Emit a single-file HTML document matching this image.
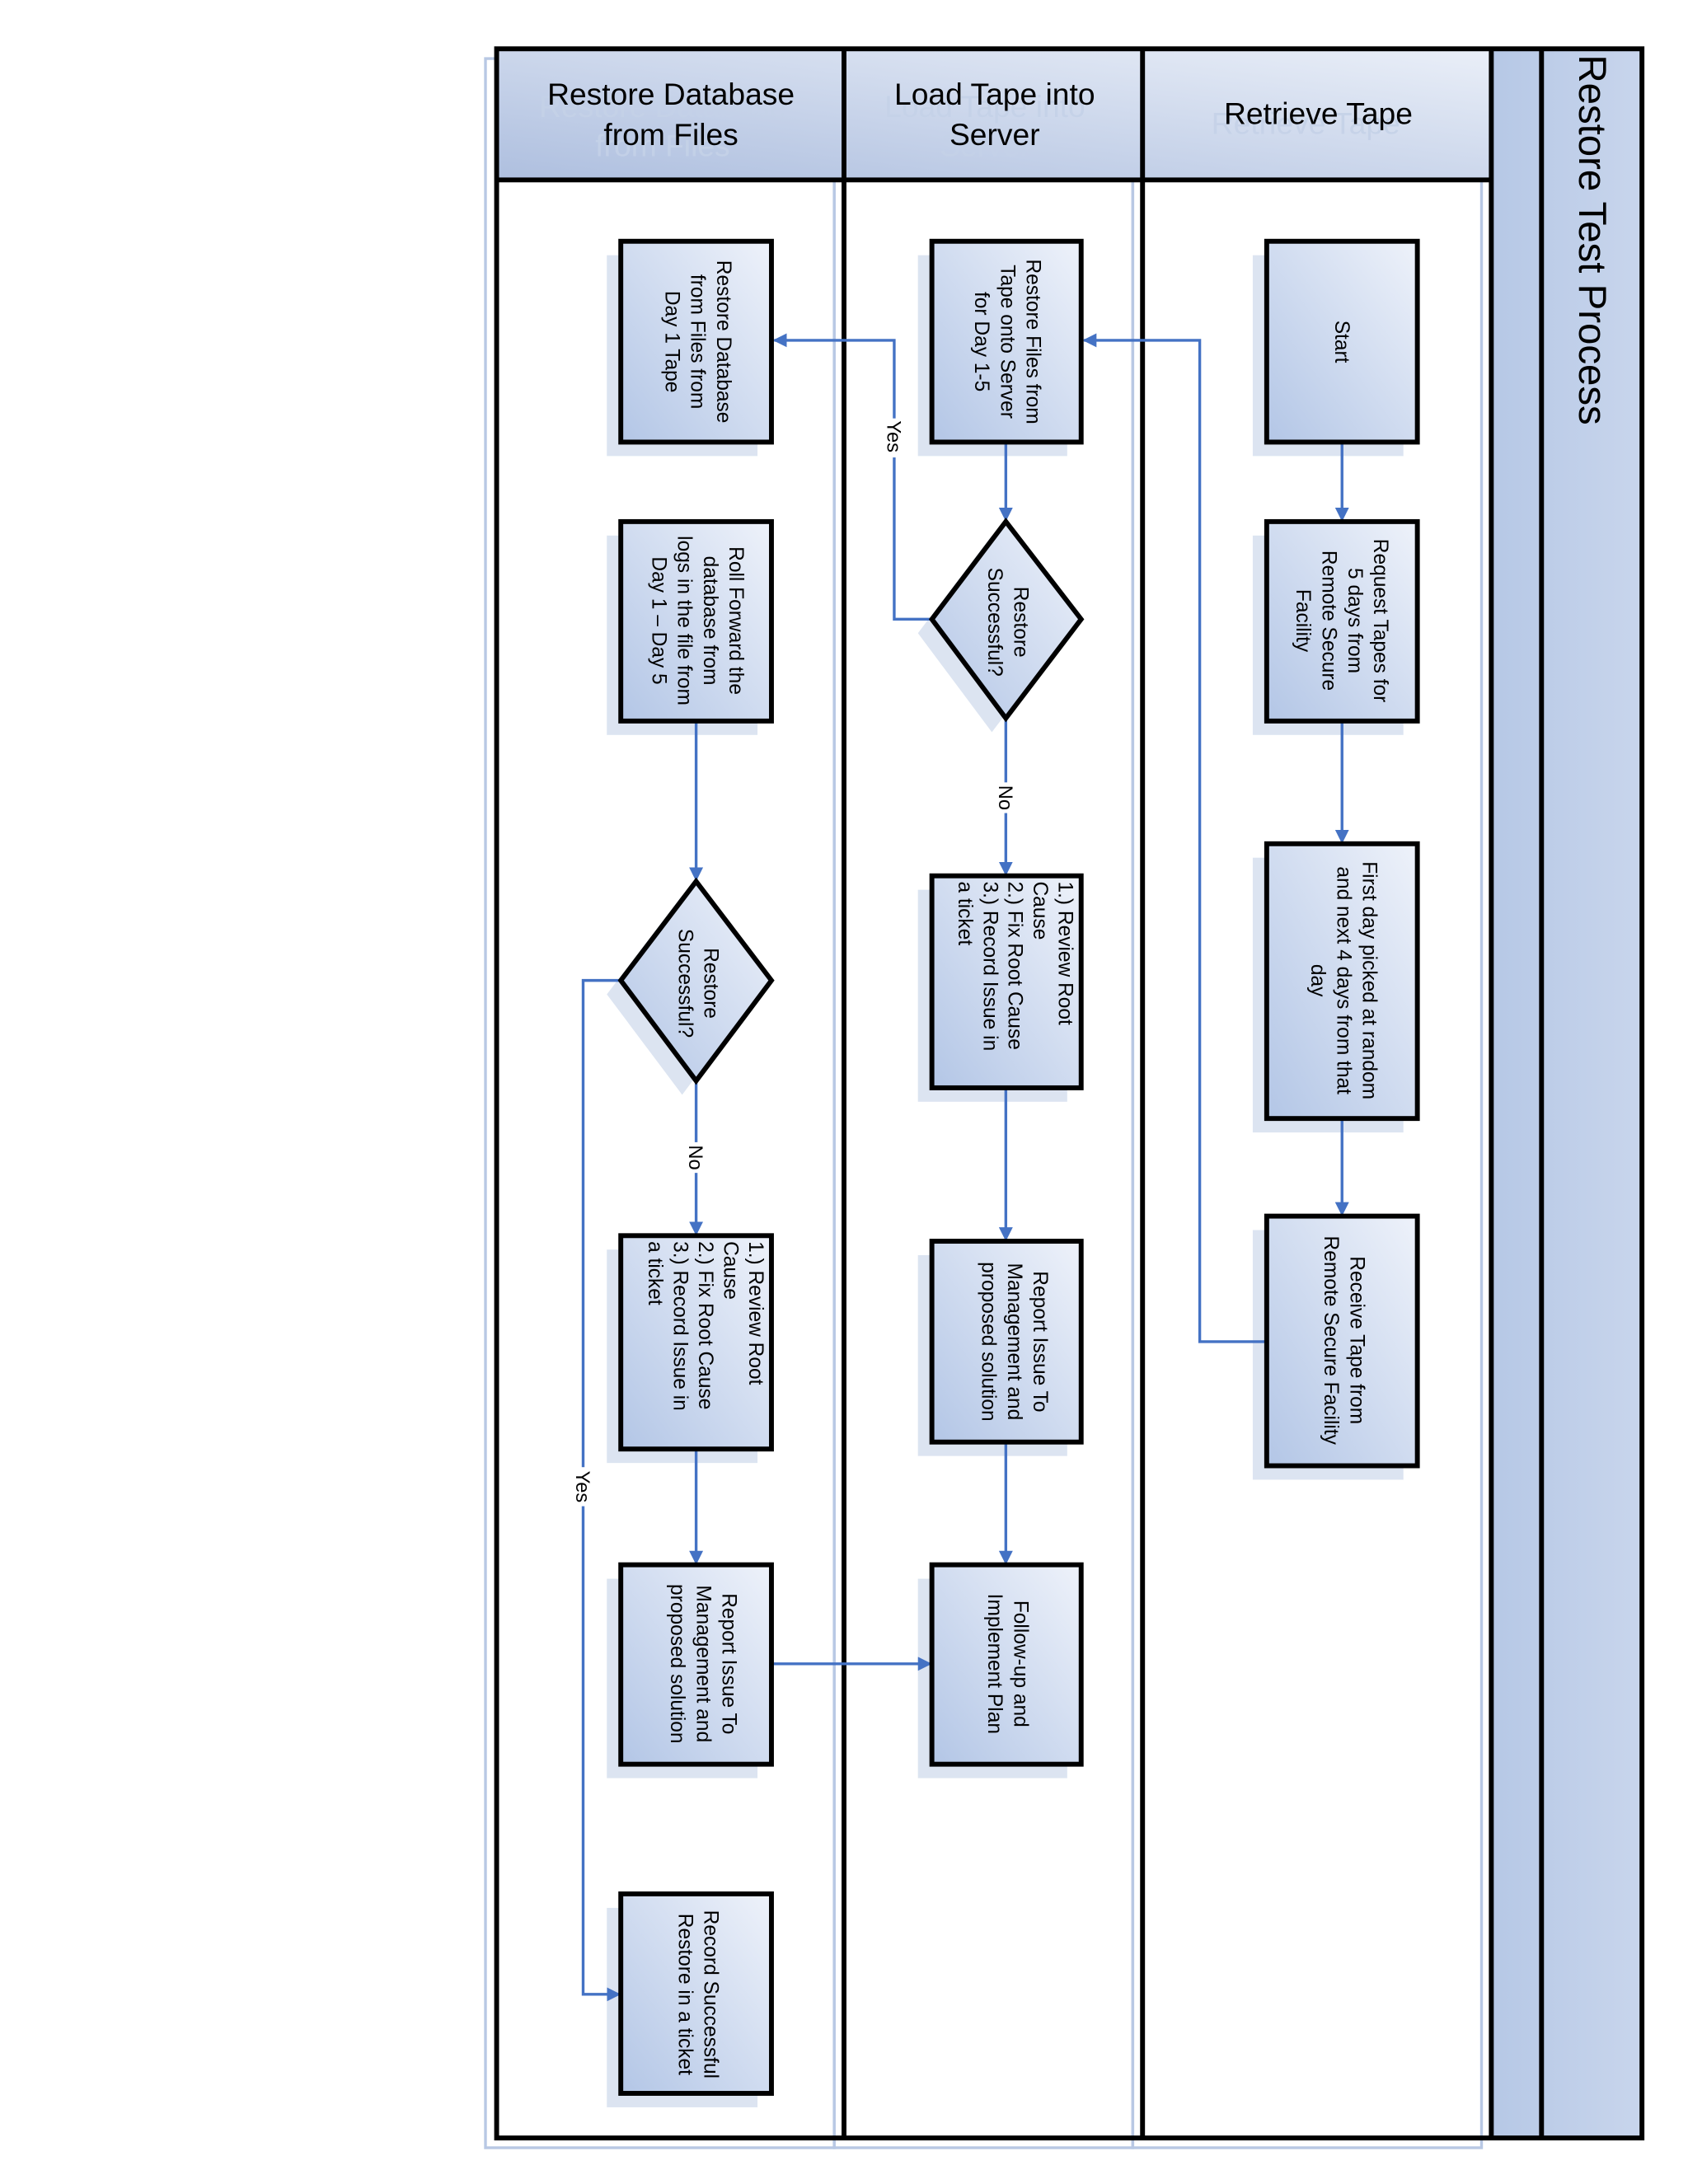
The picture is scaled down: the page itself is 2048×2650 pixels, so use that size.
<!DOCTYPE html>
<html><head><meta charset="utf-8"><style>html,body{margin:0;padding:0;background:#fff}svg{display:block}</style></head><body>
<svg xmlns="http://www.w3.org/2000/svg" width="2048" height="2650" viewBox="0 0 1210 1566" preserveAspectRatio="none" font-family="Liberation Sans, Arial, sans-serif">
<defs>
<linearGradient id="bx" x1="1" y1="0" x2="0" y2="1"><stop offset="0" stop-color="#eef2fa"/><stop offset="1" stop-color="#b3c6e6"/></linearGradient>
<linearGradient id="hd" x1="1" y1="0" x2="0" y2="1"><stop offset="0" stop-color="#eaeff8"/><stop offset="1" stop-color="#aebfdf"/></linearGradient>
<linearGradient id="tl" x1="0" y1="0" x2="1" y2="0"><stop offset="0" stop-color="#b6c8e6"/><stop offset="1" stop-color="#c8d5ec"/></linearGradient>
<marker id="ar" markerWidth="10" markerHeight="10" refX="9" refY="5" orient="auto" markerUnits="userSpaceOnUse"><path d="M0,0 L10,5 L0,10 Z" fill="#4472c4"/></marker>
</defs>
<!-- ghost lane outlines -->
<g fill="none" stroke="#b8c8e4" stroke-width="2">
<rect x="348" y="42" width="250" height="1498"/>
<rect x="598" y="42" width="214" height="1498"/>
<rect x="812" y="42" width="250" height="1498"/>
</g>
<!-- headers -->
<rect x="356" y="35" width="713" height="94" fill="url(#hd)"/>
<rect x="1069" y="35" width="108" height="1498" fill="url(#tl)"/>
<g font-size="22" fill="#c5d2e8" text-anchor="middle" opacity="0.9">
<text x="475" y="84">Restore Database</text><text x="475" y="112">from Files</text>
<text x="706" y="84">Load Tape into</text><text x="706" y="112">Server</text>
<text x="936" y="96">Retrieve Tape</text>
</g>
<g font-size="22" fill="#000" text-anchor="middle">
<text x="481" y="75">Restore Database</text><text x="481" y="104">from Files</text>
<text x="713" y="75">Load Tape into</text><text x="713" y="104">Server</text>
<text x="945" y="89">Retrieve Tape</text>
</g>
<text transform="translate(1132,172) rotate(90)" font-size="28" text-anchor="middle" fill="#000">Restore Test Process</text>
<!-- frame -->
<g stroke="#000" stroke-width="3.5" fill="none">
<rect x="356" y="35" width="821" height="1498"/>
<line x1="356" y1="129" x2="1069" y2="129"/>
<line x1="605" y1="35" x2="605" y2="1533"/>
<line x1="819" y1="35" x2="819" y2="1533"/>
<line x1="1069" y1="35" x2="1069" y2="1533"/>
<line x1="1105" y1="35" x2="1105" y2="1533"/>
</g>
<!-- shadows -->
<g fill="#d3ddee" opacity="0.8">
<rect x="898" y="183" width="108" height="144"/><rect x="898" y="384" width="108" height="143"/><rect x="898" y="615" width="108" height="197"/><rect x="898" y="882" width="108" height="179"/>
<rect x="658" y="183" width="107" height="144"/><rect x="658" y="638" width="107" height="152"/><rect x="658" y="900" width="107" height="144"/><rect x="658" y="1132" width="107" height="143"/>
<rect x="435" y="183" width="108" height="144"/><rect x="435" y="384" width="108" height="143"/><rect x="435" y="896" width="108" height="153"/><rect x="435" y="1132" width="108" height="143"/><rect x="435" y="1368" width="108" height="143"/>
<path d="M711,384 L658,454 L711,525 L765,454Z"/><path d="M489,642 L435,713 L489,785 L543,713Z"/>
</g>
<!-- connectors -->
<g stroke="#4472c4" stroke-width="2" fill="none" marker-end="url(#ar)">
<line x1="962" y1="317" x2="962" y2="373"/>
<line x1="962" y1="517" x2="962" y2="604"/>
<line x1="962" y1="802" x2="962" y2="871"/>
<polyline points="908,962 860,962 860,244 777,244"/>
<line x1="721" y1="317" x2="721" y2="373"/>
<polyline points="668,444 641,444 641,244 555,244"/>
<line x1="721" y1="515" x2="721" y2="627"/>
<line x1="721" y1="780" x2="721" y2="889"/>
<line x1="721" y1="1034" x2="721" y2="1121"/>
<line x1="499" y1="517" x2="499" y2="631"/>
<line x1="499" y1="775" x2="499" y2="885"/>
<polyline points="445,703 418,703 418,1430 444,1430"/>
<line x1="499" y1="1039" x2="499" y2="1121"/>
<line x1="553" y1="1193" x2="667" y2="1193"/>
</g>
<!-- connector labels -->
<g font-size="14" fill="#000" text-anchor="middle">
<rect x="634" y="300" width="14" height="28" fill="#fff"/><text transform="translate(636,313) rotate(90)">Yes</text>
<rect x="714" y="561" width="14" height="22" fill="#fff"/><text transform="translate(716,572) rotate(90)">No</text>
<rect x="492" y="819" width="14" height="22" fill="#fff"/><text transform="translate(494,830) rotate(90)">No</text>
<rect x="411" y="1052" width="14" height="28" fill="#fff"/><text transform="translate(413,1066) rotate(90)">Yes</text>
</g>
<!-- boxes -->
<g fill="url(#bx)" stroke="#000" stroke-width="3.5">
<rect x="908" y="173" width="108" height="144"/><rect x="908" y="374" width="108" height="143"/><rect x="908" y="605" width="108" height="197"/><rect x="908" y="872" width="108" height="179"/>
<rect x="668" y="173" width="107" height="144"/><rect x="668" y="628" width="107" height="152"/><rect x="668" y="890" width="107" height="144"/><rect x="668" y="1122" width="107" height="143"/>
<rect x="445" y="173" width="108" height="144"/><rect x="445" y="374" width="108" height="143"/><rect x="445" y="886" width="108" height="153"/><rect x="445" y="1122" width="108" height="143"/><rect x="445" y="1358" width="108" height="143"/>
<path d="M721,374 L668,444 L721,515 L775,444Z"/><path d="M499,632 L445,703 L499,775 L553,703Z"/>
</g>
<g font-size="14.5" fill="#000" text-anchor="middle">
<text transform="translate(957,245) rotate(90)"><tspan x="0" dy="0">Start</tspan></text>
<text transform="translate(985,445) rotate(90)"><tspan x="0">Request Tapes for</tspan><tspan x="0" dy="18.5">5 days from</tspan><tspan x="0" dy="18.5">Remote Secure</tspan><tspan x="0" dy="18.5">Facility</tspan></text>
<text transform="translate(977,703) rotate(90)"><tspan x="0">First day picked at random</tspan><tspan x="0" dy="18.5">and next 4 days from that</tspan><tspan x="0" dy="18.5">day</tspan></text>
<text transform="translate(968,961) rotate(90)"><tspan x="0">Receive Tape from</tspan><tspan x="0" dy="18.5">Remote Secure Facility</tspan></text>
<text transform="translate(736,245) rotate(90)"><tspan x="0">Restore Files from</tspan><tspan x="0" dy="18.5">Tape onto Server</tspan><tspan x="0" dy="18.5">for Day 1-5</tspan></text>
<text transform="translate(727,446) rotate(90)"><tspan x="0">Restore</tspan><tspan x="0" dy="18.5">Successful?</tspan></text>
<text transform="translate(741,962) rotate(90)"><tspan x="0">Report Issue To</tspan><tspan x="0" dy="18.5">Management and</tspan><tspan x="0" dy="18.5">proposed solution</tspan></text>
<text transform="translate(727,1193) rotate(90)"><tspan x="0">Follow-up and</tspan><tspan x="0" dy="18.5">Implement Plan</tspan></text>
<text transform="translate(514,245) rotate(90)"><tspan x="0">Restore Database</tspan><tspan x="0" dy="18.5">from Files from</tspan><tspan x="0" dy="18.5">Day 1 Tape</tspan></text>
<text transform="translate(523,445) rotate(90)"><tspan x="0">Roll Forward the</tspan><tspan x="0" dy="18.5">database from</tspan><tspan x="0" dy="18.5">logs in the file from</tspan><tspan x="0" dy="18.5">Day 1 – Day 5</tspan></text>
<text transform="translate(505,705) rotate(90)"><tspan x="0">Restore</tspan><tspan x="0" dy="18.5">Successful?</tspan></text>
<text transform="translate(518,1193) rotate(90)"><tspan x="0">Report Issue To</tspan><tspan x="0" dy="18.5">Management and</tspan><tspan x="0" dy="18.5">proposed solution</tspan></text>
<text transform="translate(505,1430) rotate(90)"><tspan x="0">Record Successful</tspan><tspan x="0" dy="18.5">Restore in a ticket</tspan></text>
</g>
<g font-size="14.5" fill="#000" text-anchor="start">
<text transform="translate(759,632) rotate(90)"><tspan x="0">1.) Review Root</tspan><tspan x="0" dy="18">Cause</tspan><tspan x="0" dy="18">2.) Fix Root Cause</tspan><tspan x="0" dy="18">3.) Record Issue in</tspan><tspan x="0" dy="18">a ticket</tspan></text>
<text transform="translate(537,890) rotate(90)"><tspan x="0">1.) Review Root</tspan><tspan x="0" dy="18">Cause</tspan><tspan x="0" dy="18">2.) Fix Root Cause</tspan><tspan x="0" dy="18">3.) Record Issue in</tspan><tspan x="0" dy="18">a ticket</tspan></text>
</g>
</svg>
</body></html>
